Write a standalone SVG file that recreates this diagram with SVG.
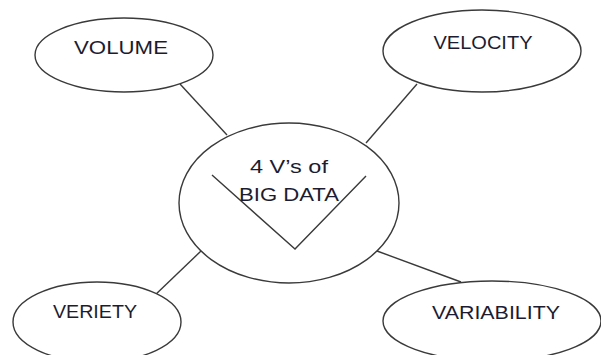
<svg xmlns="http://www.w3.org/2000/svg" width="601" height="355" viewBox="0 0 601 355">
<style>
.node ellipse{fill:#fff;stroke:#3a3a3a;stroke-width:1.4}
.lbl{font-family:"Liberation Sans",Arial,sans-serif;font-size:18px;fill:#1c1c30;text-anchor:middle}
.conn line,.conn polyline{stroke:#3a3a3a;stroke-width:1.4;fill:none}
</style>
<rect width="601" height="355" fill="#fff"/>
<g class="conn" id="connectors">
<line x1="180" y1="84" x2="227" y2="135"/>
<line x1="417" y1="84" x2="366" y2="143"/>
<line x1="201" y1="251" x2="153" y2="297"/>
<line x1="377" y1="251" x2="461" y2="282"/>
</g>
<g class="node" id="volume"><ellipse cx="124" cy="55" rx="89" ry="37"/><text class="lbl" x="121" y="54" textLength="94" lengthAdjust="spacingAndGlyphs">VOLUME</text></g>
<g class="node" id="velocity"><ellipse cx="482" cy="51" rx="99" ry="41"/><text class="lbl" x="483" y="49" textLength="99" lengthAdjust="spacingAndGlyphs">VELOCITY</text></g>
<g class="node" id="veriety"><ellipse cx="97" cy="322" rx="84" ry="40"/><text class="lbl" x="95" y="318" textLength="84" lengthAdjust="spacingAndGlyphs">VERIETY</text></g>
<g class="node" id="variability"><ellipse cx="492" cy="321" rx="109" ry="40"/><text class="lbl" x="496" y="319" textLength="128" lengthAdjust="spacingAndGlyphs">VARIABILITY</text></g>
<g class="node" id="center"><ellipse cx="289" cy="203" rx="110" ry="80"/>
<polyline class="v" points="212,175 295,249 366,176" style="stroke:#3a3a3a;stroke-width:1.4;fill:none"/>
<text class="lbl" x="289" y="173" textLength="78" lengthAdjust="spacingAndGlyphs">4 V’s of</text>
<text class="lbl" x="289" y="201" textLength="100" lengthAdjust="spacingAndGlyphs">BIG DATA</text>
</g>
</svg>
